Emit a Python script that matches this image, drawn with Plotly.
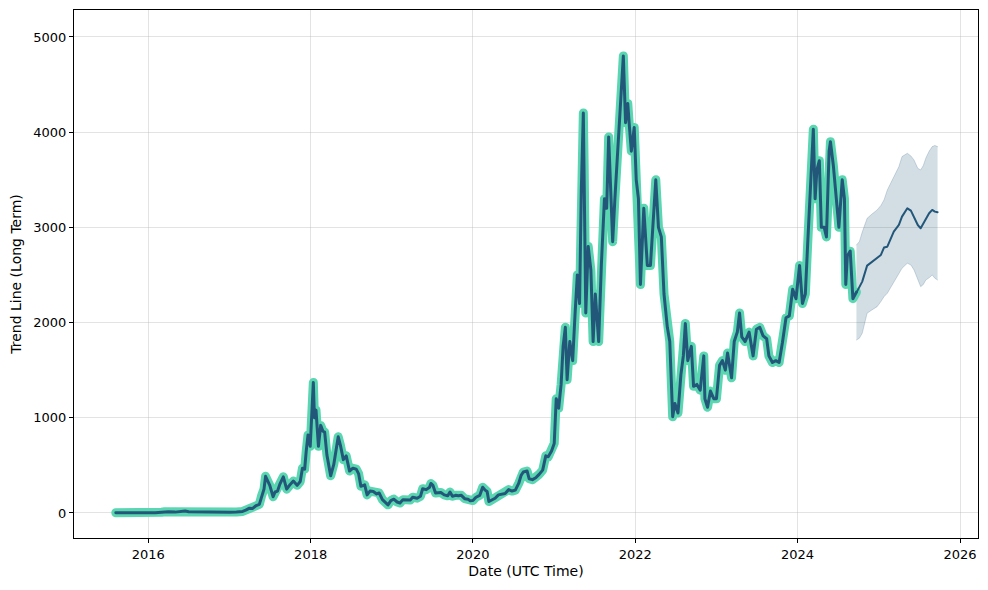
import plotly.graph_objects as go

HIST_DATES = [
    "2015-08-08", "2015-09-01", "2015-10-01", "2015-11-01", "2015-12-01",
    "2016-01-01", "2016-02-01", "2016-03-01", "2016-03-15", "2016-04-01", "2016-05-01", "2016-06-01",
    "2016-06-15", "2016-07-01", "2016-08-01", "2016-09-01", "2016-10-01", "2016-11-01", "2016-12-01",
    "2017-01-01", "2017-02-01", "2017-03-01", "2017-03-15", "2017-04-01", "2017-04-15", "2017-05-01",
    "2017-05-15", "2017-05-25", "2017-06-05", "2017-06-12", "2017-06-20", "2017-07-01", "2017-07-16",
    "2017-07-25", "2017-08-05", "2017-08-15", "2017-08-31", "2017-09-15", "2017-10-01", "2017-10-15",
    "2017-11-01", "2017-11-15", "2017-11-25", "2017-12-05", "2017-12-12", "2017-12-20", "2017-12-30",
    "2018-01-05", "2018-01-10", "2018-01-13", "2018-01-18", "2018-01-25", "2018-02-05", "2018-02-15",
    "2018-02-25", "2018-03-05", "2018-03-15", "2018-04-01", "2018-04-15", "2018-04-25", "2018-05-05",
    "2018-05-15", "2018-05-28", "2018-06-10", "2018-06-25", "2018-07-10", "2018-07-25", "2018-08-05",
    "2018-08-15", "2018-09-01", "2018-09-12", "2018-09-25", "2018-10-10", "2018-10-25", "2018-11-05",
    "2018-11-20", "2018-12-01", "2018-12-15", "2018-12-28",
    "2019-01-10", "2019-01-25", "2019-02-07", "2019-02-20", "2019-03-10", "2019-03-25", "2019-04-05",
    "2019-04-25", "2019-05-10", "2019-05-20", "2019-06-05", "2019-06-20", "2019-06-26", "2019-07-05",
    "2019-07-17", "2019-07-30", "2019-08-10", "2019-08-25", "2019-09-10", "2019-09-20", "2019-10-01",
    "2019-10-15", "2019-10-28", "2019-11-10", "2019-11-25", "2019-12-10", "2019-12-20",
    "2020-01-01", "2020-01-15", "2020-02-01", "2020-02-14", "2020-02-25", "2020-03-05", "2020-03-13",
    "2020-03-25", "2020-04-10", "2020-04-25", "2020-05-10", "2020-05-25", "2020-06-10", "2020-06-25",
    "2020-07-10", "2020-07-25", "2020-08-05", "2020-08-15", "2020-09-01", "2020-09-10", "2020-09-25",
    "2020-10-10", "2020-10-25", "2020-11-10", "2020-11-24", "2020-12-05", "2020-12-20",
    "2021-01-01", "2021-01-10", "2021-01-21", "2021-02-01", "2021-02-10", "2021-02-20", "2021-02-28",
    "2021-03-12", "2021-03-25", "2021-04-05", "2021-04-15", "2021-04-25", "2021-05-03", "2021-05-12",
    "2021-05-16", "2021-05-23", "2021-06-03", "2021-06-15", "2021-06-25", "2021-07-05", "2021-07-20",
    "2021-08-01", "2021-08-15", "2021-08-25", "2021-09-03", "2021-09-12", "2021-09-21", "2021-10-01",
    "2021-10-15", "2021-10-28", "2021-11-08", "2021-11-18", "2021-11-28", "2021-12-04", "2021-12-14",
    "2021-12-27",
    "2022-01-05", "2022-01-15", "2022-01-24", "2022-02-08", "2022-02-24", "2022-03-10", "2022-03-20",
    "2022-04-03", "2022-04-15", "2022-04-28", "2022-05-10", "2022-05-25", "2022-06-05", "2022-06-18",
    "2022-06-28", "2022-07-12", "2022-07-25", "2022-08-05", "2022-08-14", "2022-08-25", "2022-09-10",
    "2022-09-20", "2022-10-05", "2022-10-20", "2022-11-05", "2022-11-10", "2022-11-22", "2022-12-05",
    "2022-12-20",
    "2023-01-01", "2023-01-15", "2023-01-28", "2023-02-10", "2023-02-20", "2023-03-10", "2023-03-22",
    "2023-04-05", "2023-04-15", "2023-04-25", "2023-05-10", "2023-05-28", "2023-06-15", "2023-06-30",
    "2023-07-15", "2023-07-30", "2023-08-15", "2023-08-25", "2023-09-10", "2023-09-25", "2023-10-10",
    "2023-10-25", "2023-11-10", "2023-11-25", "2023-12-10", "2023-12-25",
    "2024-01-10", "2024-01-23", "2024-02-05", "2024-02-15", "2024-02-28", "2024-03-12", "2024-03-20",
    "2024-03-28", "2024-04-08", "2024-04-17", "2024-04-30", "2024-05-10", "2024-05-22", "2024-05-28",
    "2024-06-10", "2024-06-24", "2024-07-05", "2024-07-20", "2024-07-30", "2024-08-05", "2024-08-12",
    "2024-08-25", "2024-09-06", "2024-09-22",
]

HIST_VALUES = [
    2.8, 1.3, 0.6, 1.0, 0.9,
    0.95, 2.3, 7.5, 12.5, 11.5, 8.8, 14,
    20, 12.5, 10.5, 12, 13.2, 10.9, 8.4,
    8.2, 10.7, 16, 29, 50, 48, 78,
    90, 180, 250, 385, 350, 290, 170,
    220, 230, 300, 380, 250, 300, 335,
    290, 330, 470, 460, 650, 820, 700,
    980, 1300, 1370, 1000, 1080, 700, 920,
    860, 850, 610, 390, 510, 680, 800,
    710, 560, 600, 440, 470, 460, 410,
    280, 295, 190, 230, 225, 200, 210,
    140, 115, 85, 130,
    145, 115, 105, 140, 135, 135, 165,
    155, 175, 255, 245, 270, 310, 290,
    210, 215, 215, 190, 180, 220, 175,
    185, 180, 185, 150, 145, 127,
    130, 165, 185, 270, 240, 225, 120,
    135, 155, 190, 195, 205, 245, 230,
    240, 310, 395, 430, 440, 360, 350,
    370, 405, 450, 600, 590, 650,
    730, 1200, 1100, 1350, 1750, 1950, 1400,
    1800, 1600, 2100, 2500, 2200, 3400, 4200,
    3600, 2100, 2800, 2550, 1800, 2300, 1800,
    2600, 3300, 3200, 3950, 3400, 2850, 3300,
    3850, 4300, 4800, 4100, 4300, 4100, 3800,
    4050,
    3500, 3300, 2400, 3200, 2600, 2600, 2950,
    3500, 3000, 2900, 2300, 1950, 1800, 1010,
    1150, 1050, 1450, 1650, 1990, 1600, 1750,
    1330, 1350, 1290, 1650, 1200, 1110, 1280,
    1200,
    1200, 1550, 1600, 1500, 1680, 1420, 1800,
    1900, 2100, 1850, 1800, 1900, 1650, 1930,
    1950, 1860, 1830, 1650, 1580, 1600, 1580,
    1790, 2050, 2070, 2350, 2250,
    2600, 2200, 2300, 2800, 3400, 4030, 3300,
    3600, 3700, 3000, 3000, 2900, 3800, 3900,
    3650, 3300, 3000, 3500, 3300, 2400, 2700,
    2750, 2250, 2320,
]

FC_DATES = [
    "2024-09-22", "2024-10-05", "2024-10-18", "2024-11-09", "2024-12-01", "2024-12-24",
    "2025-01-10", "2025-01-24", "2025-02-08", "2025-03-09", "2025-04-01", "2025-04-15",
    "2025-05-09", "2025-05-25", "2025-06-08", "2025-06-25", "2025-07-08", "2025-07-20",
    "2025-07-31", "2025-08-15", "2025-08-29", "2025-09-10", "2025-09-22",
]
FC_CENTER = [
    2314, 2377, 2430, 2598, 2640, 2675,
    2710, 2788, 2797, 2955, 3025, 3113,
    3200, 3175, 3113, 3025, 2990, 3043,
    3095, 3148, 3183, 3165, 3158,
]
FC_UPPER = [
    2815, 2850, 2950, 3095, 3140, 3183,
    3230, 3288, 3393, 3533, 3638, 3743,
    3778, 3750, 3708, 3620, 3603, 3650,
    3726, 3800, 3848, 3860, 3848,
]
FC_LOWER = [
    1817, 1835, 1887, 2098, 2133, 2167,
    2220, 2272, 2308, 2430, 2518, 2570,
    2623, 2605, 2553, 2447, 2377, 2400,
    2447, 2470, 2500, 2465, 2447,
]

DARK = "#22577a"
TEAL = "#5ad6b0"
BAND = "rgba(34,87,122,0.2)"

fig = go.Figure()
fig.add_trace(go.Scatter(x=FC_DATES, y=FC_LOWER, mode="lines", line=dict(width=0.8, color="rgba(34,87,122,0.25)"),
                         showlegend=False, hoverinfo="skip"))
fig.add_trace(go.Scatter(x=FC_DATES, y=FC_UPPER, mode="lines", line=dict(width=0.8, color="rgba(34,87,122,0.25)"),
                         fill="tonexty", fillcolor=BAND, showlegend=False, hoverinfo="skip"))
fig.add_trace(go.Scatter(x=HIST_DATES, y=HIST_VALUES, mode="lines", line=dict(width=9, color=TEAL),
                         showlegend=False))
fig.add_trace(go.Scatter(x=HIST_DATES, y=HIST_VALUES, mode="lines", line=dict(width=3, color=DARK),
                         showlegend=False))
fig.add_trace(go.Scatter(x=FC_DATES, y=FC_CENTER, mode="lines", line=dict(width=2, color=DARK),
                         showlegend=False))

font = dict(family="DejaVu Sans", size=13, color="black")
title_font = dict(family="DejaVu Sans", size=14, color="black")
axis_common = dict(showline=True, linecolor="black", linewidth=1, mirror=True,
                   ticks="outside", ticklen=4, tickcolor="black", tickfont=font,
                   showgrid=True, gridcolor="rgba(176,176,176,0.35)", gridwidth=1, zeroline=False)

# page body has an 8px margin, so the figure is sized/offset to land where the reference axes are
fig.update_layout(
    width=972, height=574,
    margin=dict(l=66, r=2, t=2, b=44),
    paper_bgcolor="white", plot_bgcolor="white",
    font=font,
    xaxis=dict(range=["2015-02-01", "2026-03-23"], tick0="2016-01-01", dtick="M24", tickformat="%Y",
               title=dict(text="Date (UTC Time)", font=title_font, standoff=5), **axis_common),
    yaxis=dict(range=[-263, 5283], tickvals=[0, 1000, 2000, 3000, 4000, 5000],
               title=dict(text="Trend Line (Long Term)", font=title_font, standoff=8), **axis_common),
)

round_joins = """
document.querySelectorAll('.scatterlayer path.js-line').forEach(function(p){
  p.style.strokeLinejoin = 'round';
  p.style.strokeLinecap = 'round';
});
"""

fig.write_html("out.html", post_script=round_joins)
